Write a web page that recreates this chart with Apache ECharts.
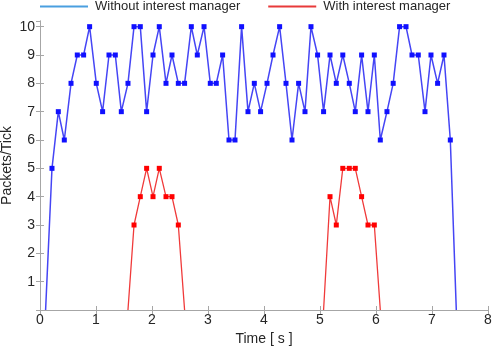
<!DOCTYPE html>
<html>
<head>
<meta charset="utf-8">
<script src="https://cdn.jsdelivr.net/npm/echarts@6/dist/echarts.min.js"></script>
<style>
  html, body { margin: 0; padding: 0; background: #fff; }
  #chart { width: 495px; height: 346px; }
</style>
</head>
<body>
<div id="chart"></div>
<script>
const blueTime = [
    0.100, 0.214, 0.327, 0.434, 0.554, 0.666, 0.779, 0.886, 1.005, 1.118,
    1.232, 1.345, 1.452, 1.571, 1.679, 1.791, 1.904, 2.018, 2.130, 2.250,
    2.357, 2.470, 2.582, 2.702, 2.809, 2.929, 3.041, 3.148, 3.261, 3.375,
    3.482, 3.600, 3.714, 3.827, 3.939, 4.054, 4.161, 4.279, 4.393, 4.500,
    4.618, 4.732, 4.839, 4.957, 5.064, 5.179, 5.291, 5.407, 5.523, 5.630,
    5.743, 5.857, 5.970, 6.077, 6.196, 6.307, 6.421, 6.536, 6.643, 6.755,
    6.875, 6.982, 7.100, 7.214, 7.327, 7.434
];
const blueValues = [
    0, 5, 7, 6, 8, 9, 9, 10, 8, 7,
    9, 9, 7, 8, 10, 10, 7, 9, 10, 8,
    9, 8, 8, 10, 9, 10, 8, 8, 9, 6,
    6, 10, 7, 8, 7, 8, 9, 10, 8, 6,
    8, 7, 10, 9, 7, 9, 8, 9, 8, 7,
    9, 7, 9, 6, 7, 8, 10, 10, 9, 9,
    7, 9, 8, 9, 6, 0
];

// null marks the gap between the two bursts
const redTime = [
    1.571, 1.679, 1.791, 1.904, 2.018, 2.130, 2.250, 2.357, 2.470, 2.582,
    3.800,
    5.064, 5.179, 5.291, 5.407, 5.523, 5.630, 5.743, 5.857, 5.970, 6.077
];
const redValues = [
    0, 3, 4, 5, 4, 5, 4, 4, 3, 0,
    null,
    0, 4, 3, 5, 5, 5, 4, 3, 3, 0
];

const seriesNames = ['Without interest manager', 'With interest manager'];
const xTicks = [0, 8, 1];
const yTicks = [0, 10.2, 1];

function pairs(times, values) {
    return times.map((t, i) => [t, values[i] === null ? '-' : values[i]]);
}

const AXIS_COLOR = '#a6a6a6';
const TEXT_COLOR = '#262626';
const FONT = 'Liberation Sans';

function hideZero(value) {
    return value[1] === 0 ? 0 : 5;
}

let chart = echarts.init(document.getElementById('chart'));
let option = {
    animation: false,
    textStyle: { fontFamily: FONT },
    legend: {
        left: 40,
        top: 0,
        padding: 0,
        itemGap: 28,
        itemWidth: 48,
        itemHeight: 2,
        icon: 'rect',
        textStyle: { fontSize: 13, color: TEXT_COLOR, fontFamily: FONT, padding: [0, 0, 0, 2] },
        data: [
            { name: seriesNames[0], itemStyle: { color: '#4a9fe0' } },
            { name: seriesNames[1], itemStyle: { color: '#e83a3a' } }
        ]
    },
    grid: {
        left: 40,
        right: 7,
        top: 21,
        bottom: 36,
        containLabel: false,
        outerBoundsMode: 'none'
    },
    xAxis: [
        {
            type: 'value',
            min: xTicks[0],
            max: xTicks[1],
            interval: xTicks[2],
            name: 'Time [ s ]',
            nameLocation: 'middle',
            nameGap: 20,
            nameTextStyle: { fontSize: 14, color: TEXT_COLOR, fontFamily: FONT },
            axisLine: { lineStyle: { color: AXIS_COLOR } },
            axisTick: { inside: true, length: 4, lineStyle: { color: AXIS_COLOR } },
            axisLabel: { fontSize: 14, color: TEXT_COLOR, margin: 3 },
            splitLine: { show: false }
        },
        {
            type: 'value',
            position: 'top',
            min: xTicks[0],
            max: xTicks[1],
            interval: xTicks[2],
            axisLine: { show: true, lineStyle: { color: AXIS_COLOR } },
            axisTick: { inside: true, length: 4, lineStyle: { color: AXIS_COLOR } },
            axisLabel: { show: false },
            splitLine: { show: false }
        }
    ],
    yAxis: [
        {
            type: 'value',
            min: yTicks[0],
            max: yTicks[1],
            interval: yTicks[2],
            name: 'Packets/Tick',
            nameLocation: 'middle',
            nameGap: 26,
            nameMoveOverlap: false,
            nameTextStyle: { fontSize: 14, color: TEXT_COLOR, fontFamily: FONT },
            axisLine: { show: true, lineStyle: { color: AXIS_COLOR } },
            axisTick: { show: true, inside: true, length: 4, lineStyle: { color: AXIS_COLOR } },
            axisLabel: {
                fontSize: 14,
                color: TEXT_COLOR,
                margin: 5,
                showMinLabel: false,
                showMaxLabel: false
            },
            splitLine: { show: false }
        },
        {
            type: 'value',
            position: 'right',
            min: yTicks[0],
            max: yTicks[1],
            interval: yTicks[2],
            axisLine: { show: true, lineStyle: { color: AXIS_COLOR } },
            axisTick: { show: true, inside: true, length: 4, lineStyle: { color: AXIS_COLOR } },
            axisLabel: { show: false },
            splitLine: { show: false }
        }
    ],
    series: [
        {
            name: seriesNames[0],
            type: 'line',
            data: pairs(blueTime, blueValues),
            symbol: 'rect',
            symbolSize: hideZero,
            showAllSymbol: true,
            lineStyle: { color: '#4545f5', width: 1.5 },
            itemStyle: { color: '#1010ff' },
            z: 3
        },
        {
            name: seriesNames[1],
            type: 'line',
            data: pairs(redTime, redValues),
            connectNulls: false,
            symbol: 'rect',
            symbolSize: hideZero,
            showAllSymbol: true,
            lineStyle: { color: '#f03a3a', width: 1.3 },
            itemStyle: { color: '#ff0000' },
            z: 2
        }
    ]
};
chart.setOption(option);
</script>
</body>
</html>
